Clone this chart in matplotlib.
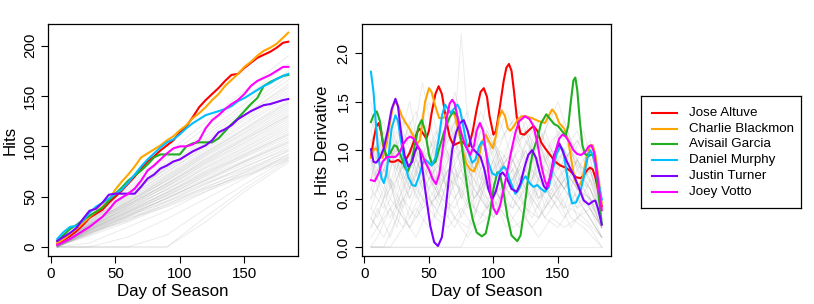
import matplotlib
matplotlib.use("Agg")
import matplotlib.pyplot as plt

plt.rcParams["font.family"] = ["Liberation Sans", "DejaVu Sans"]

# ---- data -------------------------------------------------------------
players = ["Jose Altuve", "Charlie Blackmon", "Avisail Garcia",
           "Daniel Murphy", "Justin Turner", "Joey Votto"]
player_colors = ["#FF0000", "#FFA500", "#1FAF1F", "#00BFFF", "#7F00FF", "#FF00FF"]

# cumulative hits, left panel
hit_days = [5, 10, 15, 20, 25, 30, 35, 40, 45, 50, 55, 60, 65, 70, 75, 80, 85, 90,
            95, 100, 105, 110, 115, 120, 125, 130, 135, 140, 145, 150, 155, 160,
            165, 170, 175, 180, 184]
hits_altuve = [3, 7, 11, 16, 22, 29, 33, 37, 44, 50, 56, 63, 70, 78, 85, 90, 96, 101,
               106, 114, 120, 129, 139, 146, 152, 158, 165, 171, 172, 178, 183, 188,
               191, 194, 198, 203, 204]
hits_blackmon = [4, 8, 13, 18, 24, 30, 35, 40, 47, 57, 65, 72, 80, 89, 93, 97, 101, 106,
                 110, 116, 121, 128, 133, 139, 146, 152, 160, 166, 172, 179, 184, 190,
                 195, 198, 202, 208, 213]
hits_garcia = [6, 12, 18, 22, 27, 31, 35, 39, 46, 53, 59, 66, 71, 76, 82, 89, 92, 92,
               92, 92, 100, 103, 104, 104, 104, 108, 115, 122, 128, 135, 142, 148,
               160, 164, 167, 170, 171]
hits_murphy = [8, 15, 20, 21, 26, 34, 40, 44, 48, 53, 57, 64, 72, 80, 87, 93, 99, 104,
               107, 112, 118, 123, 127, 131, 133, 135, 137, 140, 145, 148, 152, 156,
               160, 163, 167, 170, 172]
hits_turner = [6, 10, 14, 19, 28, 36, 38, 44, 52, 53, 53, 53, 53, 60, 68, 72, 78, 81,
               85, 87, 91, 95, 98, 101, 106, 114, 117, 121, 127, 131, 135, 138,
               141, 142, 144, 146, 147]
hits_votto = [2, 5, 8, 12, 16, 20, 25, 30, 37, 45, 49, 53, 58, 66, 76, 81, 87, 93,
              98, 100, 100, 102, 106, 118, 126, 131, 137, 142, 146, 152, 160, 165,
              168, 171, 175, 179, 179]
hits_by_player = [hits_altuve, hits_blackmon, hits_garcia,
                  hits_murphy, hits_turner, hits_votto]

# other players, left panel
bg_hit_days = [5, 30, 60, 90, 120, 150, 184]
bg_hits = [
    [1, 12, 28, 40, 55, 70, 86], [0, 14, 26, 43, 58, 71, 88], [1, 13, 29, 42, 60, 74, 90],
    [0, 15, 27, 45, 59, 76, 92], [2, 14, 30, 46, 63, 77, 95], [0, 16, 31, 45, 62, 80, 97],
    [1, 14, 32, 48, 64, 79, 99], [0, 16, 30, 49, 66, 82, 101], [2, 17, 33, 48, 67, 84, 103],
    [1, 15, 34, 51, 68, 85, 105], [0, 17, 32, 52, 70, 86, 107], [1, 18, 35, 51, 71, 89, 109],
    [2, 16, 36, 54, 72, 90, 111], [0, 18, 34, 55, 74, 91, 113], [1, 19, 37, 54, 75, 93, 115],
    [2, 17, 38, 57, 76, 95, 117], [0, 19, 36, 58, 78, 96, 119], [1, 20, 39, 57, 79, 98, 121],
    [2, 18, 40, 60, 80, 99, 123], [1, 21, 38, 61, 82, 101, 125], [0, 19, 41, 60, 83, 103, 127],
    [2, 21, 42, 63, 84, 104, 129], [1, 20, 40, 64, 86, 106, 131], [3, 22, 43, 63, 87, 108, 133],
    [1, 21, 44, 66, 88, 109, 135], [2, 23, 42, 67, 90, 111, 137], [0, 22, 45, 66, 91, 113, 139],
    [2, 23, 46, 69, 92, 114, 141], [1, 24, 44, 70, 94, 116, 143], [3, 22, 47, 71, 95, 118, 146],
    [2, 25, 48, 72, 97, 121, 149], [1, 24, 49, 75, 99, 123, 152], [3, 26, 50, 74, 101, 126, 155],
    [2, 25, 52, 77, 103, 128, 158], [4, 27, 51, 79, 106, 131, 162], [3, 28, 54, 80, 108, 135, 166],
    [2, 29, 55, 83, 111, 138, 170], [4, 30, 57, 85, 114, 142, 175], [3, 31, 59, 89, 119, 148, 182],
    [5, 32, 62, 93, 124, 155, 190],
    [0, 0, 0, 0, 30, 58, 86], [0, 0, 0, 12, 38, 62, 88], [0, 0, 10, 28, 48, 68, 92],
    [0, 4, 20, 36, 55, 74, 96], [0, 0, 0, 0, 25, 55, 84],
    [1, 11, 25, 41, 57, 72, 89], [0, 17, 35, 53, 73, 92, 112], [2, 20, 42, 62, 85, 107, 130],
    [1, 23, 45, 68, 93, 117, 144], [0, 13, 31, 49, 66, 85, 104], [2, 26, 53, 78, 104, 131, 160],
]

# hits derivative, right panel (days, values per player)
der_days_altuve = [5, 7, 9, 11, 13, 15, 17, 20, 23, 26, 29, 32, 35, 38, 41, 43, 45, 48,
                   50, 52, 55, 57.5, 60, 62, 64, 66, 69, 72, 75.5, 78, 81, 84, 87, 90,
                   92.5, 95, 97, 100, 102, 105, 108, 110, 112, 114, 116, 118, 121, 124,
                   127, 131, 134, 137, 140, 144, 148, 152, 156, 160, 164, 167.5, 170,
                   173, 175, 177, 179, 181, 184]
der_altuve = [0.93, 1.10, 1.24, 1.28, 1.18, 1.02, 0.93, 0.88, 0.88, 0.90, 0.87, 0.90,
              0.97, 1.08, 1.19, 1.22, 1.18, 1.12, 1.20, 1.38, 1.58, 1.66, 1.58, 1.42,
              1.27, 1.14, 1.05, 1.07, 1.09, 1.06, 1.04, 1.20, 1.42, 1.60, 1.64, 1.55,
              1.35, 1.16, 1.20, 1.45, 1.72, 1.85, 1.89, 1.82, 1.60, 1.35, 1.17, 1.16,
              1.20, 1.25, 1.20, 1.08, 1.02, 0.95, 0.88, 0.84, 0.82, 0.78, 0.72, 0.71,
              0.74, 0.80, 0.82, 0.80, 0.72, 0.60, 0.42]
der_days_blackmon = [5, 7, 9, 11, 14, 17, 20, 22, 24, 26, 29, 32, 35, 38, 41, 43, 45, 47,
                     50, 52, 55, 58, 61, 64, 67, 70, 73, 76, 79, 82, 85, 88, 91, 94, 97,
                     99.5, 102, 104, 106.5, 109, 111, 113, 116, 119, 122, 125, 130, 135,
                     140, 143, 145.5, 148, 151, 155, 158, 161, 163, 166, 169, 172, 175,
                     177, 179, 181, 184]
der_blackmon = [0.92, 1.00, 1.02, 0.97, 0.92, 1.05, 1.30, 1.45, 1.50, 1.46, 1.35, 1.28,
                1.22, 1.14, 1.07, 1.10, 1.30, 1.50, 1.64, 1.60, 1.45, 1.33, 1.33, 1.38,
                1.40, 1.36, 1.20, 1.00, 0.86, 0.80, 0.78, 0.88, 1.08, 1.16, 1.08, 1.02,
                1.15, 1.32, 1.41, 1.35, 1.23, 1.20, 1.25, 1.32, 1.35, 1.35, 1.33, 1.30,
                1.28, 1.36, 1.42, 1.38, 1.28, 1.22, 1.10, 0.85, 0.70, 0.62, 0.70, 0.92,
                1.05, 1.05, 0.95, 0.75, 0.45]
der_days_garcia = [5, 7, 9.5, 12, 14, 17, 20, 23, 25, 28, 31, 33.5, 36, 39, 42, 44.5, 47,
                   50, 52.5, 55, 58, 62, 66, 69, 72, 75, 78, 81, 84, 87, 91, 94, 97, 100,
                   103, 105, 108, 111, 114, 118.5, 121, 124, 127, 130.5, 134, 137, 141,
                   144, 147, 150, 153, 156, 158, 160, 162, 163.5, 165, 167, 169, 171,
                   174, 177, 179, 181, 184]
der_garcia = [1.29, 1.36, 1.40, 1.30, 1.10, 0.93, 0.97, 1.05, 1.04, 0.95, 0.83, 0.78,
              0.86, 1.05, 1.25, 1.31, 1.20, 0.95, 0.85, 0.88, 1.02, 1.20, 1.34, 1.40,
              1.35, 1.10, 0.78, 0.48, 0.28, 0.15, 0.11, 0.14, 0.32, 0.60, 0.77, 0.76,
              0.55, 0.30, 0.12, 0.06, 0.12, 0.40, 0.72, 0.98, 1.12, 1.28, 1.37, 1.32,
              1.27, 1.25, 1.20, 1.15, 1.25, 1.50, 1.72, 1.75, 1.62, 1.30, 1.05, 0.96,
              0.94, 0.96, 0.86, 0.60, 0.24]
der_days_murphy = [5, 7, 9, 11, 13, 15, 17, 19, 21, 24, 26, 28, 31, 34, 37, 39.5, 42, 45,
                   47, 49, 52, 55, 58, 60, 62.5, 65, 67, 69, 72, 74, 77, 80, 83.5, 86, 89,
                   91, 93, 96, 99, 102, 105, 108, 110, 113, 117, 120, 123, 125, 128, 131,
                   134, 137, 140, 143, 146, 149, 152, 154, 157, 159, 161, 164, 167, 170,
                   173, 175, 177, 179, 181, 184]
der_murphy = [1.81, 1.60, 1.25, 0.92, 0.72, 0.66, 0.75, 0.98, 1.22, 1.36, 1.30, 1.12,
              0.88, 0.72, 0.64, 0.63, 0.72, 0.86, 0.90, 0.88, 0.84, 0.92, 1.15, 1.35,
              1.47, 1.42, 1.38, 1.42, 1.47, 1.42, 1.22, 1.00, 0.87, 0.90, 1.04, 1.09,
              1.05, 0.88, 0.76, 0.74, 0.78, 0.83, 0.80, 0.68, 0.55, 0.60, 0.70, 0.73,
              0.66, 0.62, 0.64, 0.60, 0.57, 0.62, 0.80, 0.96, 1.04, 1.00, 0.75, 0.55,
              0.45, 0.46, 0.55, 0.72, 0.92, 1.00, 0.95, 0.85, 0.70, 0.49]
der_days_turner = [5, 7, 9, 12, 15, 18, 21, 24, 26, 28, 31, 34, 37, 39, 41, 43, 45, 48,
                   51, 54, 57, 60, 63, 66, 68, 71, 74, 77, 80, 83, 85, 88, 90, 93, 96, 99,
                   102, 105, 107, 110, 114, 118, 121, 124, 127, 130, 133, 136, 139, 141,
                   144, 147, 151, 154, 157, 160, 163, 166, 170, 174, 177, 179, 181, 184]
der_turner = [1.01, 0.88, 0.87, 0.92, 1.02, 1.20, 1.42, 1.53, 1.45, 1.22, 0.95, 0.83,
              0.88, 0.98, 1.04, 1.00, 0.80, 0.50, 0.22, 0.05, 0.01, 0.10, 0.40, 0.78,
              1.00, 1.18, 1.28, 1.31, 1.20, 1.04, 1.00, 0.96, 0.93, 0.80, 0.60, 0.49,
              0.58, 0.74, 0.77, 0.72, 0.60, 0.57, 0.66, 0.82, 0.95, 1.00, 0.92, 0.76,
              0.63, 0.60, 0.72, 0.95, 1.07, 0.98, 0.88, 0.80, 0.72, 0.62, 0.48, 0.44,
              0.47, 0.48, 0.40, 0.23]
der_days_votto = [5, 8, 11, 14, 17.5, 21, 24, 27, 30, 33, 35.5, 38, 41, 44, 47, 50, 53,
                  55.5, 58, 61, 64, 66, 68, 70, 72, 75, 78, 82, 85, 87, 89.5, 92, 95, 98,
                  100, 102.5, 105, 108, 111, 114, 117, 120, 124.5, 128, 131, 134, 137,
                  140, 142, 145, 148, 151, 153.5, 156, 159, 162, 165, 168, 171, 174,
                  176, 178, 180, 182, 184]
der_votto = [0.69, 0.68, 0.76, 0.88, 0.93, 0.93, 0.93, 0.97, 1.06, 1.12, 1.14, 1.12,
             1.05, 0.98, 0.88, 0.80, 0.70, 0.65, 0.75, 1.05, 1.35, 1.48, 1.52, 1.48,
             1.35, 1.18, 1.05, 0.95, 1.05, 1.20, 1.28, 1.20, 0.90, 0.55, 0.40, 0.34,
             0.42, 0.60, 0.80, 1.00, 1.18, 1.30, 1.35, 1.32, 1.25, 1.08, 0.85, 0.68,
             0.62, 0.78, 0.98, 1.12, 1.16, 1.14, 1.08, 1.00, 0.96, 0.95, 0.98, 1.04,
             1.05, 0.98, 0.80, 0.58, 0.38]
der_days_by_player = [der_days_altuve, der_days_blackmon, der_days_garcia,
                      der_days_murphy, der_days_turner, der_days_votto]
der_by_player = [der_altuve, der_blackmon, der_garcia,
                 der_murphy, der_turner, der_votto]

# other players, right panel (two day grids so the wiggles do not line up)
bg_der_days_a = [5, 15, 25, 35, 45, 55, 65, 75, 85, 95, 105, 115, 125, 135, 145, 155,
                 165, 175, 184]
bg_der_a = [
    [0.9, 0.5, 1.1, 0.6, 1.0, 0.7, 1.2, 0.5, 0.9, 0.6, 1.0, 0.8, 0.6, 1.1, 0.7, 0.9, 0.6, 0.8, 0.3],
    [0.5, 1.0, 0.4, 0.9, 0.6, 1.1, 0.5, 0.8, 0.4, 0.9, 0.6, 0.7, 1.0, 0.5, 0.8, 0.6, 0.9, 0.5, 0.2],
    [1.2, 0.7, 1.3, 0.8, 1.4, 0.9, 1.1, 1.3, 0.8, 1.2, 0.9, 1.0, 1.3, 0.8, 1.1, 1.2, 0.8, 1.0, 0.5],
    [0.3, 0.6, 0.2, 0.7, 0.4, 0.5, 0.8, 0.3, 0.6, 0.4, 0.7, 0.5, 0.3, 0.6, 0.4, 0.7, 0.4, 0.5, 0.2],
    [0.7, 1.2, 0.8, 0.5, 1.0, 0.6, 0.9, 1.1, 0.6, 1.0, 0.7, 0.9, 0.5, 0.9, 0.7, 1.0, 0.6, 0.8, 0.4],
    [0.0, 0.0, 0.3, 0.8, 0.5, 0.9, 0.6, 0.8, 0.5, 0.7, 0.9, 0.6, 0.8, 0.5, 0.7, 0.4, 0.8, 0.6, 0.3],
    [1.0, 0.8, 0.6, 1.2, 0.7, 1.0, 0.6, 0.9, 1.2, 0.7, 0.8, 1.0, 0.7, 1.1, 0.8, 0.6, 0.9, 0.7, 0.4],
    [0.6, 0.4, 0.9, 0.5, 0.8, 0.3, 0.7, 0.6, 0.9, 0.5, 0.6, 0.4, 0.8, 0.5, 0.6, 0.8, 0.5, 0.4, 0.1],
    [1.4, 0.9, 1.0, 1.5, 0.8, 1.2, 0.9, 1.4, 1.0, 1.1, 1.3, 0.9, 1.2, 1.0, 1.4, 0.9, 1.1, 0.9, 0.5],
    [0.2, 0.5, 0.7, 0.3, 0.6, 0.8, 0.4, 0.6, 0.3, 0.8, 0.5, 0.4, 0.6, 0.3, 0.5, 0.7, 0.3, 0.4, 0.2],
    [0.8, 0.6, 1.0, 0.7, 1.1, 0.5, 0.8, 0.7, 1.0, 0.6, 0.9, 0.7, 1.0, 0.6, 0.8, 1.0, 0.7, 0.6, 0.3],
    [0.0, 0.0, 0.0, 0.0, 0.0, 0.0, 0.0, 0.0, 0.3, 0.7, 0.5, 0.9, 0.6, 0.8, 0.5, 0.8, 0.6, 0.5, 0.2],
    [1.1, 1.3, 0.7, 1.0, 1.2, 0.8, 1.3, 0.9, 0.7, 1.1, 0.8, 1.2, 0.9, 1.3, 0.8, 1.0, 1.2, 0.8, 0.5],
    [0.4, 0.8, 0.5, 1.0, 0.6, 0.4, 0.9, 0.5, 0.7, 0.4, 0.6, 0.8, 0.4, 0.7, 0.5, 0.3, 0.6, 0.5, 0.3],
    [0.9, 0.7, 1.2, 0.9, 1.7, 1.0, 0.7, 1.0, 0.8, 1.2, 0.9, 0.6, 1.1, 0.8, 1.0, 0.7, 0.9, 0.6, 0.3],
    [0.1, 0.3, 0.5, 0.2, 0.4, 0.6, 0.3, 2.2, 0.4, 0.3, 0.5, 0.7, 0.4, 0.3, 0.6, 0.4, 0.5, 0.3, 0.1],
    [1.3, 1.0, 0.8, 1.3, 0.9, 1.1, 1.4, 0.8, 1.2, 1.0, 1.1, 1.3, 0.9, 1.2, 1.0, 1.3, 0.9, 1.1, 0.6],
    [0.7, 0.9, 0.4, 0.6, 0.9, 0.6, 0.8, 1.0, 0.5, 0.8, 0.5, 0.9, 0.6, 0.4, 0.8, 0.6, 0.4, 0.7, 0.3],
    [1.0, 1.1, 0.9, 0.6, 1.3, 0.7, 1.0, 1.2, 0.9, 1.5, 0.8, 1.0, 1.2, 0.7, 1.0, 0.9, 1.1, 0.8, 0.4],
    [0.3, 0.1, 0.4, 0.2, 0.5, 0.3, 0.2, 0.4, 0.2, 0.3, 0.4, 0.2, 0.3, 0.1, 0.3, 0.2, 0.3, 0.2, 0.0],
    [0.0, 0.0, 0.0, 0.0, 0.0, 0.0, 0.0, 0.0, 0.0, 0.0, 0.0, 0.0, 0.0, 0.0, 0.0, 0.0, 0.0, 0.0, 0.0],
]
bg_der_days_b = [5, 10, 20, 30, 40, 50, 60, 70, 80, 90, 100, 110, 120, 130, 140, 150,
                 160, 170, 184]
bg_der_b = [
    [0.8, 1.1, 0.6, 1.0, 0.5, 0.9, 1.2, 0.7, 1.0, 0.6, 0.9, 0.5, 0.8, 1.0, 0.6, 0.9, 0.7, 0.5, 0.2],
    [0.4, 0.3, 0.7, 0.4, 0.8, 0.5, 0.3, 0.7, 0.4, 0.6, 0.3, 0.7, 0.5, 0.3, 0.6, 0.4, 0.6, 0.4, 0.1],
    [1.1, 0.9, 1.3, 0.8, 1.2, 1.5, 1.0, 1.3, 0.9, 1.4, 1.1, 0.8, 1.2, 1.0, 0.7, 1.1, 0.9, 0.8, 0.4],
    [0.6, 0.8, 0.5, 0.9, 0.6, 0.8, 0.5, 1.0, 0.7, 0.5, 0.9, 0.6, 0.8, 0.5, 0.9, 0.6, 0.8, 0.5, 0.3],
    [0.2, 0.4, 0.1, 0.5, 0.3, 0.6, 0.4, 0.2, 0.5, 0.3, 0.6, 0.4, 0.2, 0.5, 0.3, 0.5, 0.2, 0.4, 0.1],
    [1.5, 1.2, 0.9, 1.1, 1.4, 1.0, 1.3, 1.1, 0.8, 1.2, 1.0, 1.4, 1.1, 1.3, 0.9, 1.2, 1.0, 0.8, 0.5],
    [0.9, 0.6, 1.0, 0.7, 0.9, 0.6, 1.1, 0.8, 0.6, 1.0, 0.7, 0.9, 0.6, 1.0, 0.8, 0.7, 1.0, 0.6, 0.3],
    [0.0, 0.0, 0.0, 0.2, 0.6, 0.4, 0.7, 0.5, 0.8, 0.6, 0.4, 0.7, 0.5, 0.8, 0.6, 0.5, 0.7, 0.5, 0.2],
    [0.7, 1.0, 1.2, 0.8, 1.0, 0.7, 0.9, 1.3, 0.9, 0.7, 1.1, 0.8, 1.0, 0.7, 1.2, 0.8, 1.0, 0.7, 0.4],
    [1.2, 1.4, 0.9, 1.2, 0.8, 1.1, 0.9, 1.6, 1.1, 1.3, 0.9, 1.2, 1.4, 1.0, 1.2, 1.5, 1.1, 0.9, 0.5],
    [0.3, 0.2, 0.5, 0.3, 0.1, 0.4, 0.6, 0.3, 0.2, 0.5, 0.3, 0.6, 0.4, 0.2, 0.4, 0.6, 0.3, 0.2, 0.0],
    [1.0, 0.7, 0.9, 1.3, 0.9, 0.6, 0.8, 1.1, 1.4, 0.8, 1.0, 0.7, 0.9, 1.2, 0.9, 0.6, 0.9, 1.2, 0.4],
    [0.5, 0.6, 0.3, 0.6, 1.0, 0.7, 0.5, 0.4, 0.7, 0.9, 0.5, 0.3, 0.7, 0.9, 0.4, 0.7, 0.5, 0.6, 0.2],
    [0.0, 0.1, 0.4, 0.2, 0.4, 0.2, 0.5, 0.3, 0.1, 0.3, 0.5, 0.2, 0.4, 0.6, 0.3, 0.2, 0.4, 0.3, 0.1],
]

x_ticks = [0, 50, 100, 150]
hits_ticks = [0, 50, 100, 150, 200]
der_ticks = [0.0, 0.5, 1.0, 1.5, 2.0]
der_tick_labels = ["0.0", "0.5", "1.0", "1.5", "2.0"]

# ---- figure -----------------------------------------------------------
fig = plt.figure(figsize=(8.14, 3.04), dpi=100)
fig.patch.set_facecolor("white")

ax1 = fig.add_axes([0.05897, 0.15789, 0.30651, 0.76316])
ax2 = fig.add_axes([0.44435, 0.15789, 0.30627, 0.76316])
leg = fig.add_axes([0.7871, 0.3168, 0.1969, 0.3684])

grey = "#8c8c8c"
for vals in bg_hits:
    ax1.plot(bg_hit_days, vals, color=grey, lw=0.7, alpha=0.17, zorder=1)
for vals, col in zip(hits_by_player, player_colors):
    ax1.plot(hit_days, vals, color=col, lw=1.5, zorder=3, solid_joinstyle="round")

for vals in bg_der_a:
    ax2.plot(bg_der_days_a, vals, color=grey, lw=0.7, alpha=0.17, zorder=1)
for vals in bg_der_b:
    ax2.plot(bg_der_days_b, vals, color=grey, lw=0.7, alpha=0.17, zorder=1)
for days_, vals, col in zip(der_days_by_player, der_by_player, player_colors):
    ax2.plot(days_, vals, color=col, lw=1.5, zorder=3, solid_joinstyle="round")

ax1.set_xlim(-2.16, 191.16)
ax1.set_ylim(-8.94, 221.6)
ax2.set_xlim(-2.16, 191.16)
ax2.set_ylim(-0.093, 2.3025)

ax1.set_yticks(hits_ticks)
ax2.set_yticks(der_ticks)
ax2.set_yticklabels(der_tick_labels)

for ax in (ax1, ax2):
    ax.set_xticks(x_ticks)
    ax.tick_params(axis="both", direction="out", length=5, width=0.8,
                   labelsize=10.8, pad=3, color="black")
    ax.tick_params(axis="y", labelrotation=90)
    for lab in ax.get_yticklabels():
        lab.set_va("center")
    for s in ax.spines.values():
        s.set_linewidth(0.9)
        s.set_color("black")
    ax.set_xlabel("Day of Season", fontsize=12.2, labelpad=2)

ax1.set_ylabel("Hits", fontsize=12.2, labelpad=4)
ax2.set_ylabel("Hits Derivative", fontsize=12.2, labelpad=5)

# legend drawn in its own box
leg.set_xlim(0, 160.3)
leg.set_ylim(112, 0)
leg.set_xticks([])
leg.set_yticks([])
for s in leg.spines.values():
    s.set_linewidth(0.9)
    s.set_color("black")
for i, (name, col) in enumerate(zip(players, player_colors)):
    y = 17 + 15.9 * i
    leg.plot([11, 36.6], [y, y], color=col, lw=1.5)
    leg.text(48.3, y, name, fontsize=9.6, va="center", ha="left")

fig.savefig("out.png", dpi=100, facecolor="white")
